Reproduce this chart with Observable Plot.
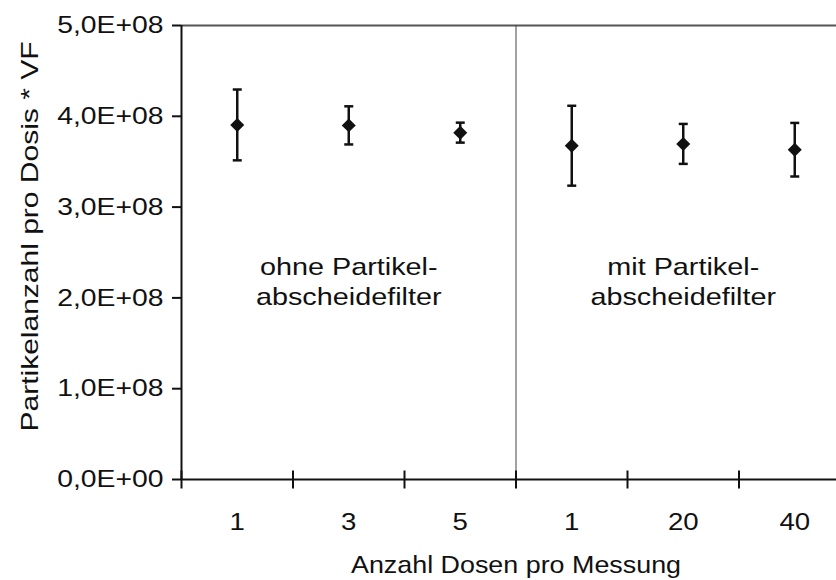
<!DOCTYPE html>
<html><head><meta charset="utf-8">
<script src="https://cdn.jsdelivr.net/npm/d3@7"></script>
<script src="https://cdn.jsdelivr.net/npm/@observablehq/plot@0.6"></script>
<style>
html,body{margin:0;padding:0;background:#fff;}
#chart{width:836px;height:580px;overflow:hidden;}
</style></head><body><div id="chart"></div>
<script>
// ---- data ----
const doseLabels = ["1", "3", "5", "1", "20", "40"];
const meanValues = [3.905e8, 3.90e8, 3.82e8, 3.676e8, 3.696e8, 3.632e8];
const errorValues = [0.39e8, 0.21e8, 0.11e8, 0.44e8, 0.22e8, 0.295e8];
const yTickValues = [0, 1e8, 2e8, 3e8, 4e8, 5e8];
const groupNames = ["ohne Partikel-\nabscheidefilter", "mit Partikel-\nabscheidefilter"];
const groupSize = 3;
const annotationLevel = 2.19e8;
const xTitle = "Anzahl Dosen pro Messung";
const yTitle = "Partikelanzahl pro Dosis * VF";

const data = doseLabels.map((label, i) => ({
  pos: i + 0.5, label, mean: meanValues[i],
  lo: meanValues[i] - errorValues[i], hi: meanValues[i] + errorValues[i]
}));
const groups = groupNames.map((name, g) => ({pos: g * groupSize + groupSize / 2, name, level: annotationLevel}));
const boundaries = d3.range(0, doseLabels.length + 1);

function sci(v) {
  if (v === 0) return "0,0E+00";
  const e = Math.floor(Math.log10(Math.abs(v)));
  const m = v / Math.pow(10, e);
  return m.toFixed(1).replace(".", ",") + "E+" + String(e).padStart(2, "0");
}

const hCap = {draw(ctx) { ctx.moveTo(-4.5, 0); ctx.lineTo(4.5, 0); }};
const vTick = {draw(ctx) { ctx.moveTo(0, -9); ctx.lineTo(0, 9); }};
const ink = "#111";

const plot = Plot.plot({
  width: 836, height: 580,
  marginLeft: 181, marginRight: 0, marginTop: 25, marginBottom: 101,
  style: {fontFamily: "'Liberation Sans', Arial, sans-serif", fontSize: "24px", color: ink, background: "#fff"},
  x: {type: "linear", domain: [0, doseLabels.length], range: [181, 850]},
  y: {domain: [0, 5e8]},
  marks: [
    Plot.ruleY([5e8], {stroke: "#555", strokeWidth: 2}),
    Plot.ruleX([groupSize], {stroke: "#444", strokeWidth: 1}),
    Plot.axisY({ticks: yTickValues, tickFormat: sci, tickSize: 9, tickPadding: 9, strokeWidth: 2, label: null, fontSize: 24}),
    Plot.ruleX([0], {stroke: ink, strokeWidth: 2}),
    Plot.ruleY([0], {stroke: ink, strokeWidth: 2}),
    Plot.dot(boundaries, {x: d => d, y: () => 0, symbol: vTick, stroke: ink, strokeWidth: 2}),
    Plot.axisX({ticks: data.map(d => d.pos), tickFormat: d => doseLabels[Math.floor(d)], tickSize: 0, tickPadding: 33, label: null, fontSize: 24}),
    Plot.text([xTitle], {x: () => doseLabels.length / 2, frameAnchor: "bottom", lineAnchor: "bottom", dy: 93, fontSize: 24}),
    Plot.text([yTitle], {frameAnchor: "left", textAnchor: "middle", rotate: -90, dx: -151, dy: -16, fontSize: 24}),
    Plot.text(groups, {x: "pos", y: "level", text: "name", lineHeight: 1.25, fontSize: 24}),
    Plot.ruleX(data, {x: "pos", y1: "lo", y2: "hi", stroke: ink, strokeWidth: 2.5}),
    Plot.dot(data, {x: "pos", y: "lo", symbol: hCap, stroke: ink, strokeWidth: 2.5}),
    Plot.dot(data, {x: "pos", y: "hi", symbol: hCap, stroke: ink, strokeWidth: 2.5}),
    Plot.dot(data, {x: "pos", y: "mean", symbol: "diamond2", r: 6.3, fill: ink, stroke: "none"})
  ]
});

// widen glyphs horizontally (the reference font is wider than Liberation Sans)
function stretchEl(el, s) {
  const tr = el.getAttribute("transform");
  if (tr) {
    el.setAttribute("transform", tr + ` scale(${s},1)`);
  } else {
    const x = el.getAttribute("x"), y = el.getAttribute("y");
    const xs = x && !/em$/.test(x) ? x : 0;
    const ys = y && !/em$/.test(y) ? y : 0;
    if (xs) el.removeAttribute("x");
    if (ys) el.removeAttribute("y");
    el.setAttribute("transform", `translate(${xs},${ys}) scale(${s},1)`);
  }
}
const groupTexts = groupNames.map(n => n.replace("\n", ""));
plot.querySelectorAll("text").forEach(el => {
  const parentLabel = el.parentNode && el.parentNode.getAttribute ? el.parentNode.getAttribute("aria-label") : "";
  const t = el.textContent;
  if (parentLabel === "y-axis tick label") stretchEl(el, 1.18);
  else if (parentLabel === "x-axis tick label") stretchEl(el, 1.15);
  else if (t === xTitle) stretchEl(el, 1.12);
  else if (t === yTitle) stretchEl(el, 1.25);
  else if (groupTexts.includes(t)) stretchEl(el, 1.2);
});

document.getElementById("chart").append(plot);
</script>
</body></html>
